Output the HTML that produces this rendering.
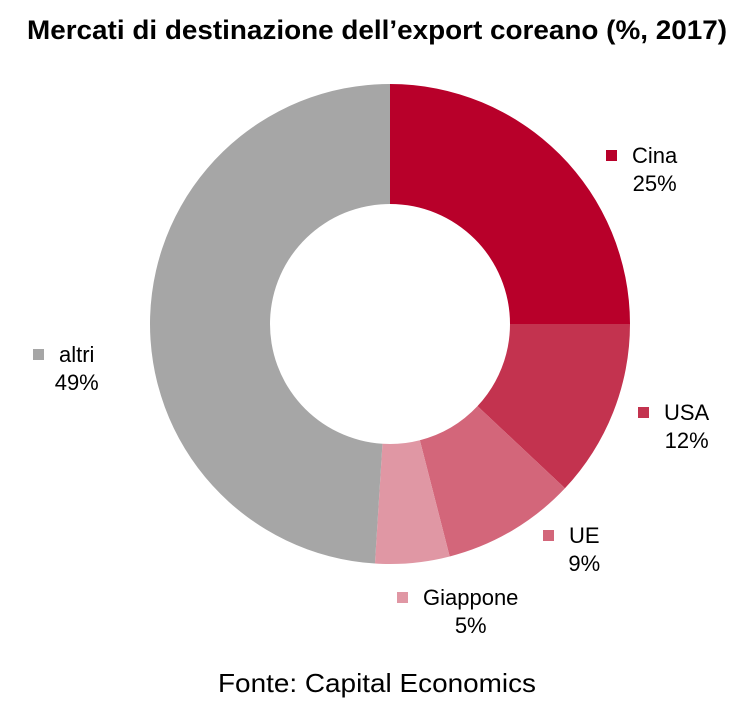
<!DOCTYPE html>
<html><head><meta charset="utf-8"><style>
body{margin:0;background:#fff;font-family:"Liberation Sans",Arial,sans-serif;}
svg{display:block}
</style></head><body>
<svg width="754" height="711">
<text x="377" y="39" text-anchor="middle" font-size="27" font-weight="bold" fill="#000" textLength="700" lengthAdjust="spacingAndGlyphs">Mercati di destinazione dell’export coreano (%, 2017)</text>
<g id="slices"></g>
<g id="labels"></g>
<text x="377" y="692" text-anchor="middle" font-size="26" fill="#000" textLength="318" lengthAdjust="spacingAndGlyphs">Fonte: Capital Economics</text>
</svg>
<script>
const categories=["Cina","USA","UE","Giappone","altri"];
const values=[25,12,9,5,49];
const colors=["#b8002a","#c3334f","#d3667a","#e097a4","#a6a6a6"];
const labelPos=[[606,150],[638,407],[543,530],[397,592],[33,349]];
const cx=390,cy=324,R=240,r=120;
const total=values.reduce((a,b)=>a+b,0);
const ns="http://www.w3.org/2000/svg";
const g=document.getElementById("slices"),lg=document.getElementById("labels");
function pt(a,rad){return [cx+rad*Math.sin(a),cy-rad*Math.cos(a)];}
let acc=0;
values.forEach((v,i)=>{
 const a0=acc/total*2*Math.PI;acc+=v;const a1=acc/total*2*Math.PI;
 const large=(a1-a0)>Math.PI?1:0;
 const p0=pt(a0,R),p1=pt(a1,R),q1=pt(a1,r),q0=pt(a0,r);
 const p=document.createElementNS(ns,"path");
 p.setAttribute("d",`M${p0[0]},${p0[1]}A${R},${R} 0 ${large} 1 ${p1[0]},${p1[1]}L${q1[0]},${q1[1]}A${r},${r} 0 ${large} 0 ${q0[0]},${q0[1]}Z`);
 p.setAttribute("fill",colors[i]);
 
 
 g.appendChild(p);
 const [lx,ly]=labelPos[i];
 const m=document.createElementNS(ns,"rect");
 m.setAttribute("x",lx);m.setAttribute("y",ly);m.setAttribute("width",11);m.setAttribute("height",11);m.setAttribute("fill",colors[i]);
 
 
 lg.appendChild(m);
 const t=document.createElementNS(ns,"text");
 t.setAttribute("x",lx+26);t.setAttribute("y",ly+13);t.setAttribute("font-size","22");
 t.textContent=categories[i];
 
 
 lg.appendChild(t);
 const w=t.getComputedTextLength();
 const t2=document.createElementNS(ns,"text");
 t2.setAttribute("x",lx+26+w/2);t2.setAttribute("y",ly+41);t2.setAttribute("font-size","22");t2.setAttribute("text-anchor","middle");
 t2.textContent=v+"%";
 
 
 lg.appendChild(t2);
});
</script>
</body></html>
